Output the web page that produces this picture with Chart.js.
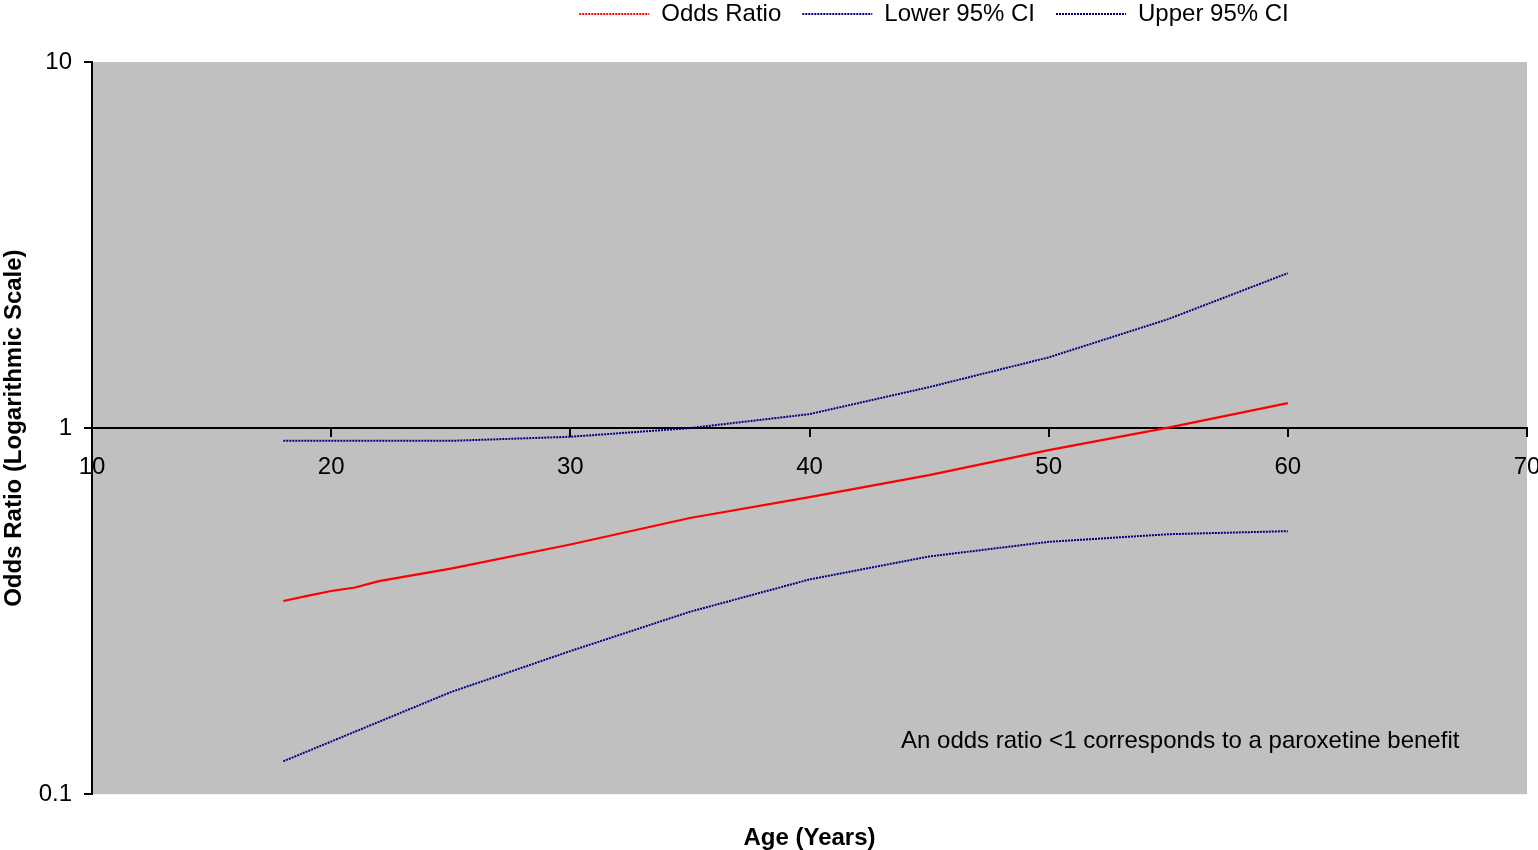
<!DOCTYPE html>
<html>
<head>
<meta charset="utf-8">
<title>Odds Ratio by Age</title>
<script src="https://cdn.jsdelivr.net/npm/chart.js@4.4.1/dist/chart.umd.min.js"></script>
<style>
  html, body { margin: 0; padding: 0; background: #fff; }
  canvas { display: block; }
</style>
</head>
<body>
<canvas id="orChart" width="1538" height="850"></canvas>
<script>
// Data ----------------------------------------------------------------------->
const orAges = [18, 19, 20, 21, 22, 25, 30, 35, 40, 45, 50, 55, 60];
const oddsRatio = [0.337, 0.348, 0.359, 0.367, 0.382, 0.413, 0.481, 0.568, 0.648, 0.744, 0.871, 1.003, 1.17];
const ciAges = [18, 25, 30, 35, 40, 45, 50, 55, 60];
const lowerCI = [0.123, 0.190, 0.246, 0.315, 0.386, 0.446, 0.489, 0.513, 0.523];
const upperCI = [0.923, 0.923, 0.947, 1.0, 1.092, 1.294, 1.56, 1.985, 2.65];
const seriesNames = ['Odds Ratio', 'Lower 95% CI', 'Upper 95% CI'];
const xTicks = [10, 20, 30, 40, 50, 60, 70];
const yTicks = [0.1, 1, 10];
const noteText = 'An odds ratio <1 corresponds to a paroxetine benefit';
const notePos = { age: 55.5, odds: 0.139 };

Chart.defaults.font.family = "'Liberation Sans', Arial, sans-serif";
Chart.defaults.font.size = 24;
Chart.defaults.color = '#000';

const toPoints = (xs, ys) => xs.map((x, i) => ({ x: x, y: ys[i] }));

// Plugins -------------------------------------------------------------------->
// grey plot area like the Excel original
const plotBackground = {
    id: 'plotBackground',
    beforeDraw(chart) {
        const { ctx, chartArea: a } = chart;
        ctx.save();
        ctx.fillStyle = '#c0c0c0';
        ctx.fillRect(a.left, a.top, a.right - a.left, a.bottom - a.top);
        ctx.restore();
    }
};

// legend sits right of centre and close to the top edge
const legendShift = {
    id: 'legendShift',
    afterLayout(chart) {
        const lg = chart.legend;
        lg.left += 165; lg.right += 165;
        lg.top -= 26; lg.bottom -= 26;
    }
};

const notePlugin = {
    id: 'notePlugin',
    afterDatasetsDraw(chart) {
        const { ctx, scales } = chart;
        ctx.save();
        ctx.font = "24px 'Liberation Sans', Arial, sans-serif";
        ctx.fillStyle = '#000';
        ctx.textAlign = 'center';
        ctx.textBaseline = 'middle';
        ctx.fillText(noteText, scales.x.getPixelForValue(notePos.age), scales.y.getPixelForValue(notePos.odds));
        ctx.restore();
    }
};

// Chart ---------------------------------------------------------------------->
const ctx = document.getElementById('orChart').getContext('2d');
new Chart(ctx, {
    type: 'line',
    data: {
        datasets: [
            {
                label: seriesNames[0],
                data: toPoints(orAges, oddsRatio),
                borderColor: '#ff0000',
                borderWidth: 2.2,
                pointRadius: 0,
                tension: 0
            },
            {
                label: seriesNames[1],
                data: toPoints(ciAges, lowerCI),
                borderColor: '#000080',
                borderWidth: 2,
                borderDash: [2, 1],
                pointRadius: 0,
                tension: 0
            },
            {
                label: seriesNames[2],
                data: toPoints(ciAges, upperCI),
                borderColor: '#000080',
                borderWidth: 2,
                borderDash: [2, 1],
                pointRadius: 0,
                tension: 0
            }
        ]
    },
    options: {
        responsive: false,
        animation: false,
        layout: { padding: { top: 7, left: 0, right: 0, bottom: 0 } },
        scales: {
            x: {
                type: 'linear',
                min: xTicks[0],
                max: xTicks[xTicks.length - 1],
                position: { y: 1 },
                afterBuildTicks: (s) => { s.ticks = xTicks.map(v => ({ value: v })); },
                afterFit: (s) => { s.paddingRight = 11; },
                ticks: { padding: 17, color: '#000', callback: (v) => String(v) },
                grid: { drawOnChartArea: false, drawTicks: true, tickLength: 8, color: '#000', lineWidth: 2 },
                border: { display: true, color: '#000', width: 2 }
            },
            y: {
                type: 'logarithmic',
                min: yTicks[0],
                max: yTicks[yTicks.length - 1],
                afterBuildTicks: (s) => { s.ticks = yTicks.map(v => ({ value: v })); },
                afterFit: (s) => { s.width = 92; },
                ticks: { padding: 12, color: '#000', callback: (v) => String(v) },
                grid: { drawOnChartArea: false, drawTicks: true, tickLength: 8, color: '#000', lineWidth: 2 },
                border: { display: true, color: '#000', width: 2 },
                title: {
                    display: true,
                    text: 'Odds Ratio (Logarithmic Scale)',
                    font: { size: 24, weight: 'bold' },
                    padding: { top: 0, bottom: 0 }
                }
            }
        },
        plugins: {
            legend: {
                position: 'top',
                labels: {
                    usePointStyle: true,
                    pointStyle: 'line',
                    pointStyleWidth: 70,
                    padding: 21,
                    font: { size: 24 },
                    generateLabels: (chart) => {
                        const items = Chart.defaults.plugins.legend.labels.generateLabels(chart);
                        items.forEach(it => { it.lineDash = [2, 1]; it.lineWidth = 2; it.pointStyle = 'line'; });
                        return items;
                    }
                }
            },
            title: {
                display: true,
                position: 'bottom',
                fullSize: false,
                text: 'Age (Years)',
                font: { size: 24, weight: 'bold' },
                padding: { top: 30, bottom: -3 }
            },
            tooltip: { enabled: false }
        }
    },
    plugins: [plotBackground, legendShift, notePlugin]
});
</script>
</body>
</html>
